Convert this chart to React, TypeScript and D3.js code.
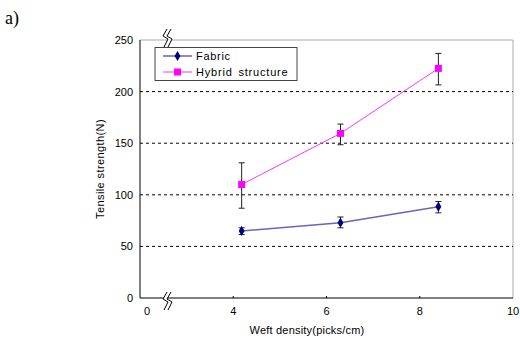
import React from "react";
import * as d3 from "d3";

const xLabels = [
  { v: 2, t: "0" },
  { v: 4, t: "4" },
  { v: 6, t: "6" },
  { v: 8, t: "8" },
  { v: 10, t: "10" },
];
const yTicks = [0, 50, 100, 150, 200, 250];
const gridValues = [50, 100, 150, 200];

const fabric = [
  { x: 4.18, y: 65, lo: 61.5, hi: 68 },
  { x: 6.3, y: 73, lo: 68, hi: 78.5 },
  { x: 8.4, y: 88.5, lo: 82.5, hi: 93.5 },
];
const hybrid = [
  { x: 4.18, y: 110, lo: 87, hi: 131 },
  { x: 6.3, y: 159.5, lo: 148.5, hi: 168.5 },
  { x: 8.4, y: 222.5, lo: 206.5, hi: 237 },
];

const FONT = "Liberation Sans, Arial, sans-serif";

function BreakMark({ cx, cy }: { cx: number; cy: number }) {
  const zig = (dx: number) =>
    `M${cx + dx + 2},${cy - 9} L${cx + dx - 2},${cy - 2} L${cx + dx + 3},${cy + 1} L${cx + dx - 1},${cy + 9}`;
  return (
    <g>
      <path
        d={`M${cx + 2},${cy - 9} L${cx - 2},${cy - 2} L${cx + 3},${cy + 1} L${cx - 1},${cy + 9} L${cx + 3},${cy + 9} L${cx + 7},${cy + 1} L${cx + 2},${cy - 2} L${cx + 6},${cy - 9} Z`}
        fill="white"
      />
      <path d={zig(0)} fill="none" stroke="black" strokeWidth={1} />
      <path d={zig(4)} fill="none" stroke="black" strokeWidth={1} />
    </g>
  );
}

export default function App() {
  const left = 140, right = 513, top = 40, bottom = 298;
  const x = d3.scaleLinear().domain([2, 10]).range([left, right]);
  const y = d3.scaleLinear().domain([0, 250]).range([bottom, top]);
  const line = d3
    .line<{ x: number; y: number }>()
    .x((d) => x(d.x))
    .y((d) => y(d.y));

  const errBars = (data: typeof fabric, key: string) =>
    data.map((d, i) => (
      <g key={key + i} stroke="#222" strokeWidth={1}>
        <line x1={x(d.x)} x2={x(d.x)} y1={y(d.lo)} y2={y(d.hi)} />
        <line x1={x(d.x) - 3} x2={x(d.x) + 3} y1={y(d.lo)} y2={y(d.lo)} />
        <line x1={x(d.x) - 3} x2={x(d.x) + 3} y1={y(d.hi)} y2={y(d.hi)} />
      </g>
    ));

  return (
    <svg width={520} height={338} style={{ position: "absolute", left: 0, top: 0, background: "white" }}>
      <text x={5} y={24} fontFamily="Liberation Serif, Times New Roman, serif" fontSize={18}>a)</text>

      {/* frame */}
      <line x1={left} x2={right} y1={top} y2={top} stroke="#aaa" />
      <line x1={right} x2={right} y1={top} y2={bottom} stroke="#aaa" />

      {gridValues.map((v) => (
        <line key={v} x1={left} x2={right} y1={y(v)} y2={y(v)} stroke="#000" strokeDasharray="3,3" />
      ))}

      <line x1={left} x2={left} y1={top} y2={bottom} stroke="#000" />
      <line x1={left} x2={right} y1={bottom} y2={bottom} stroke="#000" />
      {xLabels.slice(1, 4).map((d) => (
        <line key={d.v} x1={x(d.v)} x2={x(d.v)} y1={bottom} y2={bottom - 2} stroke="#000" />
      ))}

      {yTicks.map((v) => (
        <text key={v} x={133} y={y(v) + 4} textAnchor="end" fontFamily={FONT} fontSize={11}>{v}</text>
      ))}
      {xLabels.map((d) => (
        <text key={d.v} x={d.v === 2 ? x(d.v) + 7 : x(d.v)} y={bottom + 17} textAnchor="middle" fontFamily={FONT} fontSize={11}>{d.t}</text>
      ))}

      <text x={307} y={334} textAnchor="middle" fontFamily={FONT} fontSize={11} letterSpacing={0.2}>Weft density(picks/cm)</text>
      <text transform={`translate(104,${(top + bottom) / 2}) rotate(-90)`} textAnchor="middle" fontFamily={FONT} fontSize={11} letterSpacing={0.4}>Tensile strength(N)</text>

      {errBars(hybrid, "h")}
      {errBars(fabric, "f")}

      <path d={line(fabric) ?? ""} fill="none" stroke="#6666bb" strokeWidth={1.5} />
      <path d={line(hybrid) ?? ""} fill="none" stroke="#ff33ff" strokeWidth={1} />

      {fabric.map((d, i) => (
        <path key={i} d={d3.symbol(d3.symbolDiamond, 30)() ?? ""} transform={`translate(${x(d.x)},${y(d.y)})`} fill="#000080" />
      ))}
      {hybrid.map((d, i) => (
        <rect key={i} x={x(d.x) - 3.5} y={y(d.y) - 3.5} width={7} height={7} fill="#ff00ff" />
      ))}

      <BreakMark cx={165} cy={38} />
      <BreakMark cx={165} cy={301} />

      {/* legend */}
      <rect x={155} y={47.5} width={142} height={33} fill="white" stroke="#444" />
      <line x1={163} x2={192} y1={56} y2={56} stroke="#6666bb" strokeWidth={1.5} />
      <path d={d3.symbol(d3.symbolDiamond, 30)() ?? ""} transform="translate(177.5,56)" fill="#000080" />
      <text x={196} y={60} fontFamily={FONT} fontSize={11} letterSpacing={0.7}>Fabric</text>
      <line x1={163} x2={192} y1={72} y2={72} stroke="#ff33ff" strokeWidth={1} />
      <rect x={174} y={68.5} width={7} height={7} fill="#ff00ff" />
      <text x={196} y={76} fontFamily={FONT} fontSize={11} letterSpacing={0.8} wordSpacing={2}>Hybrid structure</text>
    </svg>
  );
}
